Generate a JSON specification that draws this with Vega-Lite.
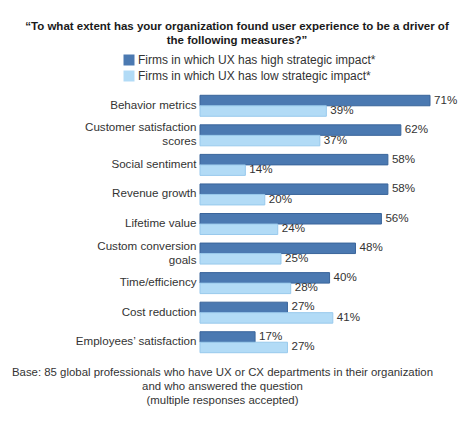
{
  "$schema": "https://vega.github.io/schema/vega-lite/v6.json",
  "autosize": "none",
  "width": 230,
  "height": 266,
  "padding": {"left": 200, "top": 91, "right": 44, "bottom": 64},
  "background": "white",
  "config": {
    "view": {"stroke": null},
    "font": "Liberation Sans",
    "axis": {"grid": false}
  },
  "title": {
    "text": ["“To what extent has your organization found user experience to be a driver of", "the following measures?”"],
    "anchor": "middle",
    "dx": -78,
    "offset": 8,
    "fontSize": 11.5,
    "fontWeight": "bold",
    "color": "#1a1a1a",
    "lineHeight": 14,
    "font": "Liberation Sans"
  },
  "data": {
    "values": [
      {"measure": "Behavior metrics", "group": "high", "value": 71},
      {"measure": "Behavior metrics", "group": "low", "value": 39},
      {"measure": "Customer satisfaction|scores", "group": "high", "value": 62},
      {"measure": "Customer satisfaction|scores", "group": "low", "value": 37},
      {"measure": "Social sentiment", "group": "high", "value": 58},
      {"measure": "Social sentiment", "group": "low", "value": 14},
      {"measure": "Revenue growth", "group": "high", "value": 58},
      {"measure": "Revenue growth", "group": "low", "value": 20},
      {"measure": "Lifetime value", "group": "high", "value": 56},
      {"measure": "Lifetime value", "group": "low", "value": 24},
      {"measure": "Custom conversion|goals", "group": "high", "value": 48},
      {"measure": "Custom conversion|goals", "group": "low", "value": 25},
      {"measure": "Time/efficiency", "group": "high", "value": 40},
      {"measure": "Time/efficiency", "group": "low", "value": 28},
      {"measure": "Cost reduction", "group": "high", "value": 27},
      {"measure": "Cost reduction", "group": "low", "value": 41},
      {"measure": "Employees’ satisfaction", "group": "high", "value": 17},
      {"measure": "Employees’ satisfaction", "group": "low", "value": 27}
    ]
  },
  "encoding": {
    "y": {
      "field": "measure",
      "type": "nominal",
      "sort": null,
      "scale": {"paddingInner": 0.29, "paddingOuter": 0.145},
      "axis": {
        "title": null,
        "domain": false,
        "ticks": false,
        "labelPadding": 4,
        "labelFontSize": 11.6,
        "labelColor": "#333333",
        "labelFont": "Liberation Sans",
        "labelLineHeight": 14,
        "labelExpr": "split(datum.label, '|')",
        "labelOffset": {"condition": {"test": "indexof(datum.value, '|') >= 0", "value": -7}, "value": 0},
        "labelLimit": 200
      }
    },
    "yOffset": {
      "field": "group",
      "type": "nominal",
      "sort": ["high", "low"],
      "scale": {"paddingInner": 0, "paddingOuter": 0}
    },
    "x": {
      "field": "value",
      "type": "quantitative",
      "scale": {"domain": [0, 71], "nice": false, "zero": true},
      "axis": {
        "domain": false,
        "ticks": false,
        "labels": false,
        "grid": false,
        "title": ["Base: 85 global professionals who have UX or CX departments in their organization", "and who answered the question", "(multiple responses accepted)"],
        "titleX": 22,
        "titleY": 9,
        "titleAlign": "center",
        "titleBaseline": "top",
        "titleFontSize": 11.4,
        "titleFontWeight": "normal",
        "titleColor": "#333333",
        "titleFont": "Liberation Sans",
        "titleLineHeight": 14
      }
    }
  },
  "layer": [
    {
      "mark": {"type": "bar", "strokeWidth": 1},
      "encoding": {
        "color": {
          "field": "group",
          "type": "nominal",
          "scale": {"domain": ["high", "low"], "range": ["#4b79b1", "#b2dbf6"]},
          "legend": {
            "title": null,
            "orient": "none",
            "legendX": -77,
            "legendY": -37,
            "symbolType": "square",
            "symbolSize": 121,
            "symbolStrokeWidth": 0,
            "labelFontSize": 12,
            "labelColor": "#333333",
            "labelFont": "Liberation Sans",
            "labelOffset": 3,
            "labelLimit": 300,
            "rowPadding": 4,
            "labelExpr": "datum.value == 'high' ? 'Firms in which UX has high strategic impact*' : 'Firms in which UX has low strategic impact*'"
          }
        },
        "stroke": {
          "field": "group",
          "type": "nominal",
          "scale": {"domain": ["high", "low"], "range": ["#3a659b", "#98c9ec"]},
          "legend": null
        }
      }
    },
    {
      "mark": {
        "type": "text",
        "align": "left",
        "baseline": "middle",
        "dx": 4,
        "fontSize": 11.6,
        "color": "#333333",
        "font": "Liberation Sans",
        "text": {"expr": "datum.value + '%'"}
      }
    }
  ]
}
